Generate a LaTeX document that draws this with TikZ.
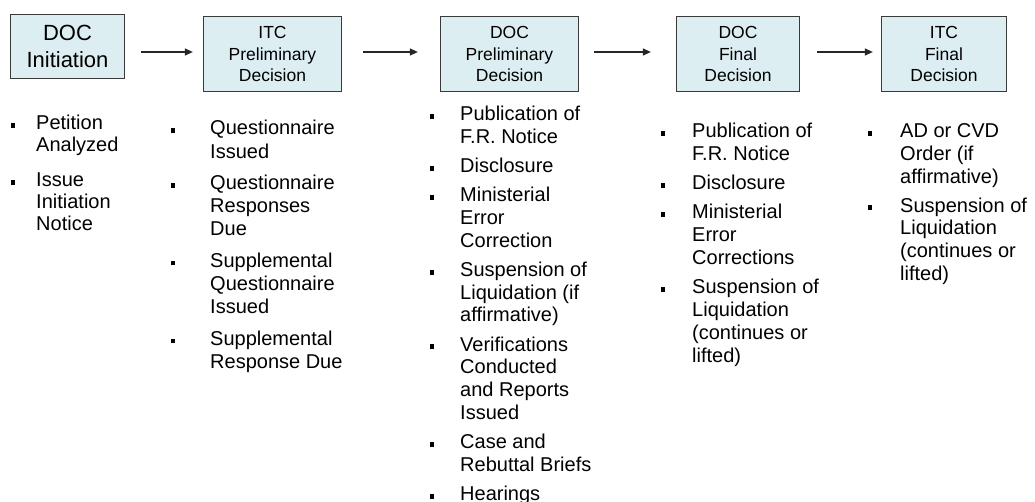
\documentclass[tikz,border=0pt]{standalone}
\usepackage{fontspec}
\setmainfont{Liberation Sans}
\usetikzlibrary{arrows.meta}
\definecolor{boxfill}{HTML}{DCEEF2}
\definecolor{boxline}{HTML}{3A3A3A}
\newcommand{\sqb}{\rule[1.8pt]{4.5pt}{4.8pt}}
\newcommand{\bu}[1]{\makebox[#1][l]{\sqb}}
\begin{document}
\begin{tikzpicture}[x=1pt,y=-1pt,
  stage/.style={draw=boxline, line width=1.3pt, fill=boxfill, align=center, inner sep=0pt,
    minimum height=75pt, font=\fontsize{17.5}{21.5}\selectfont},
  flow/.style={draw=black!85, line width=1.2pt, -{Triangle[length=8pt,width=7pt]}},
  items/.style={anchor=north west, inner sep=0pt, align=left}
]
\useasboundingbox[fill=white] (0,0) rectangle (1035,501);

% stage boxes
\node[stage, minimum width=114pt, minimum height=64pt, font=\fontsize{22}{27}\selectfont] (b1) at (67.5,46.5) {DOC\\Initiation};
\node[stage, minimum width=138pt] (b2) at (272.5,54) {ITC\\Preliminary\\Decision};
\node[stage, minimum width=138pt] (b3) at (509.5,54) {DOC\\Preliminary\\Decision};
\node[stage, minimum width=123pt] (b4) at (738,54) {DOC\\Final\\Decision};
\node[stage, minimum width=125pt] (b5) at (944,54) {ITC\\Final\\Decision};

% arrows
\coordinate (row) at (0,52);
\draw[flow, shorten <=16pt, shorten >=10pt] (b1.east |- row) -- (b2.west |- row);
\draw[flow, shorten <=21pt, shorten >=22pt] (b2.east |- row) -- (b3.west |- row);
\draw[flow, shorten <=15pt, shorten >=25pt] (b3.east |- row) -- (b4.west |- row);
\draw[flow, shorten <=17pt, shorten >=8pt] (b4.east |- row) -- (b5.west |- row);

% bullet lists
\node[items, font=\fontsize{20}{22}\selectfont] (l1) at (10.5,114.1) {%
\begin{tabular}{@{}l@{}l@{}}
\bu{25.5pt} & Petition\\
 & Analyzed\\[13pt]
\bu{25.5pt} & Issue\\
 & Initiation\\
 & Notice
\end{tabular}};

\node[items, font=\fontsize{20}{23.3}\selectfont] (l2) at (170.5,118.2) {%
\begin{tabular}{@{}l@{}l@{}}
\bu{39.5pt} & Questionnaire\\
 & Issued\\[8pt]
\bu{39.5pt} & Questionnaire\\
 & Responses\\
 & Due\\[8pt]
\bu{39.5pt} & Supplemental\\
 & Questionnaire\\
 & Issued\\[8pt]
\bu{39.5pt} & Supplemental\\
 & Response Due
\end{tabular}};

\node[items, font=\fontsize{20}{22.8}\selectfont] (l3) at (429.5,104.5) {%
\begin{tabular}{@{}l@{}l@{}}
\bu{30.5pt} & Publication of\\
 & F.R. Notice\\[6.3pt]
\bu{30.5pt} & Disclosure\\[6.3pt]
\bu{30.5pt} & Ministerial\\
 & Error\\
 & Correction\\[6.3pt]
\bu{30.5pt} & Suspension of\\
 & Liquidation (if\\
 & affirmative)\\[6.3pt]
\bu{30.5pt} & Verifications\\
 & Conducted\\
 & and Reports\\
 & Issued\\[6.3pt]
\bu{30.5pt} & Case and\\
 & Rebuttal Briefs\\[6.3pt]
\bu{30.5pt} & Hearings
\end{tabular}};

\node[items, font=\fontsize{20}{23}\selectfont] (l4) at (660.5,121.4) {%
\begin{tabular}{@{}l@{}l@{}}
\bu{31.5pt} & Publication of\\
 & F.R. Notice\\[6pt]
\bu{31.5pt} & Disclosure\\[6pt]
\bu{31.5pt} & Ministerial\\
 & Error\\
 & Corrections\\[6pt]
\bu{31.5pt} & Suspension of\\
 & Liquidation\\
 & (continues or\\
 & lifted)
\end{tabular}};

\node[items, font=\fontsize{20}{22.8}\selectfont] (l5) at (867.5,121.5) {%
\begin{tabular}{@{}l@{}l@{}}
\bu{32.5pt} & AD or CVD\\
 & Order (if\\
 & affirmative)\\[6pt]
\bu{32.5pt} & Suspension of\\
 & Liquidation\\
 & (continues or\\
 & lifted)
\end{tabular}};
\end{tikzpicture}
\end{document}
